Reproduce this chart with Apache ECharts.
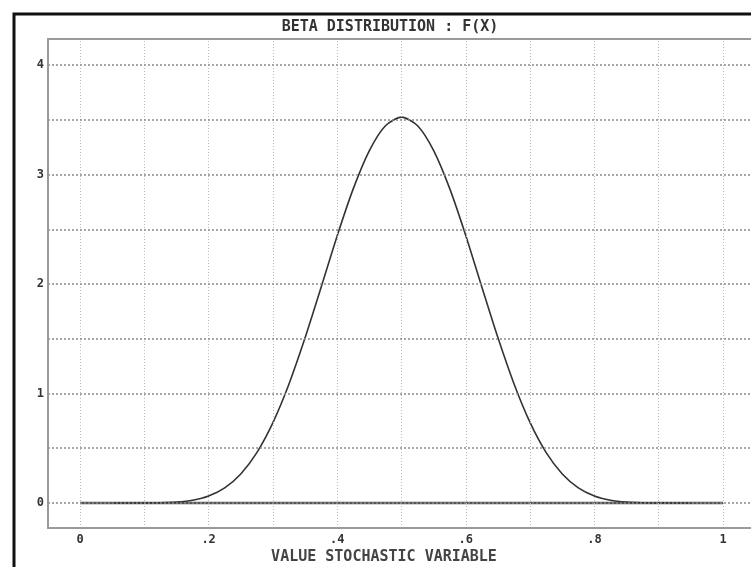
<!DOCTYPE html>
<html>
<head>
<meta charset="utf-8">
<script src="https://cdn.jsdelivr.net/npm/echarts@6/dist/echarts.min.js"></script>
<style>html,body{margin:0;padding:0;background:#fff}#c{width:751px;height:567px}</style>
</head>
<body>
<div id="c"></div>
<script>
// Curve: x values and f(x)
const xs = [0.05,0.075,0.1,0.125,0.15,0.175,0.2,0.225,0.25,0.275,0.3,0.325,0.35,0.375,0.4,0.425,0.45,0.475,0.5,
            0.525,0.55,0.575,0.6,0.625,0.65,0.675,0.7,0.725,0.75,0.775,0.8,0.825,0.85,0.875,0.9,0.925,0.95];
const fx = [0.0000,0.0000,0.0004,0.0021,0.0082,0.0252,0.0635,0.138,0.265,0.460,0.734,1.087,1.508,1.971,2.441,2.871,3.219,3.446,3.524,
            3.446,3.219,2.871,2.441,1.971,1.508,1.087,0.734,0.460,0.265,0.138,0.0635,0.0252,0.0082,0.0021,0.0004,0.0000,0.0000];
// Zero baseline drawn from 0 to 1
const baseX = [0, 1];
const baseY = [0, 0];
// Grid lines and tick labels
const gridX = [0,0.1,0.2,0.3,0.4,0.5,0.6,0.7,0.8,0.9,1.0];
const gridY = [0,0.5,1,1.5,2,2.5,3,3.5,4];
const xTickVals = [0,0.2,0.4,0.6,0.8,1];
const xTickText = ['0','.2','.4','.6','.8','1'];
const yTickVals = [0,1,2,3,4];
const yTickText = ['0','1','2','3','4'];
const titleText = 'BETA DISTRIBUTION : F(X)';
const xName = 'VALUE STOCHASTIC VARIABLE';

const FONT = '"DejaVu Sans Mono", "Liberation Mono", monospace';
const chart = echarts.init(document.getElementById('c'), null, {renderer: 'canvas'});
chart.setOption({
  animation: false,
  backgroundColor: '#fff',
  grid: {left: 48, top: 39, right: 0, bottom: 39, show: false, containLabel: false},
  xAxis: {
    type: 'value', min: -0.0498, max: 1.0435,
    axisLine: {show: false}, axisTick: {show: false}, splitLine: {show: false},
    axisLabel: {
      customValues: xTickVals,
      formatter: v => { const i = xTickVals.findIndex(t => Math.abs(t - v) < 1e-9); return i >= 0 ? xTickText[i] : ''; },
      color: '#333', fontFamily: FONT, fontWeight: 'bold', fontSize: 12, margin: 6
    }
  },
  yAxis: {
    type: 'value', min: -0.229, max: 4.238,
    axisLine: {show: false}, axisTick: {show: false}, splitLine: {show: false},
    axisLabel: {
      customValues: yTickVals,
      formatter: v => { const i = yTickVals.findIndex(t => Math.abs(t - v) < 1e-9); return i >= 0 ? yTickText[i] : ''; },
      color: '#333', fontFamily: FONT, fontWeight: 'bold', fontSize: 12, margin: 4
    }
  },
  graphic: [
    {type: 'rect', shape: {x: 48, y: 39, width: 800, height: 489}, style: {fill: 'none', stroke: '#9a9a9a', lineWidth: 2}, z: 100},
    {type: 'rect', shape: {x: 14, y: 14, width: 800, height: 600}, style: {fill: 'none', stroke: '#111', lineWidth: 3}, z: 100},
    {type: 'text', x: 390, y: 27, style: {text: titleText, font: 'bold 15px ' + FONT, fill: '#333', align: 'center', verticalAlign: 'middle'}, z: 100},
    {type: 'text', x: 384, y: 557, style: {text: xName, font: 'bold 15px ' + FONT, fill: '#444', align: 'center', verticalAlign: 'middle'}, z: 100}
  ],
  series: [
    {
      type: 'line', name: 'gridV', data: [], silent: true,
      markLine: {silent: true, symbol: 'none', animation: false, label: {show: false},
        lineStyle: {color: '#b8b8b8', type: [1, 2], width: 1},
        data: gridX.map(v => ({xAxis: v}))}
    },
    {
      type: 'line', name: 'gridH', data: [], silent: true,
      markLine: {silent: true, symbol: 'none', animation: false, label: {show: false},
        lineStyle: {color: '#8a8a8a', type: [2, 2], width: 1.5},
        data: gridY.map(v => ({yAxis: v}))}
    },
    {
      type: 'line', name: 'base', data: baseX.map((x, i) => [x, baseY[i]]),
      symbol: 'none', lineStyle: {color: '#555', width: 2.5}, z: 3
    },
    {
      type: 'line', name: 'f', data: xs.map((x, i) => [x, fx[i]]),
      symbol: 'none', smooth: 0.25, lineStyle: {color: '#333', width: 1.6}, z: 4
    }
  ]
});
</script>
</body>
</html>
